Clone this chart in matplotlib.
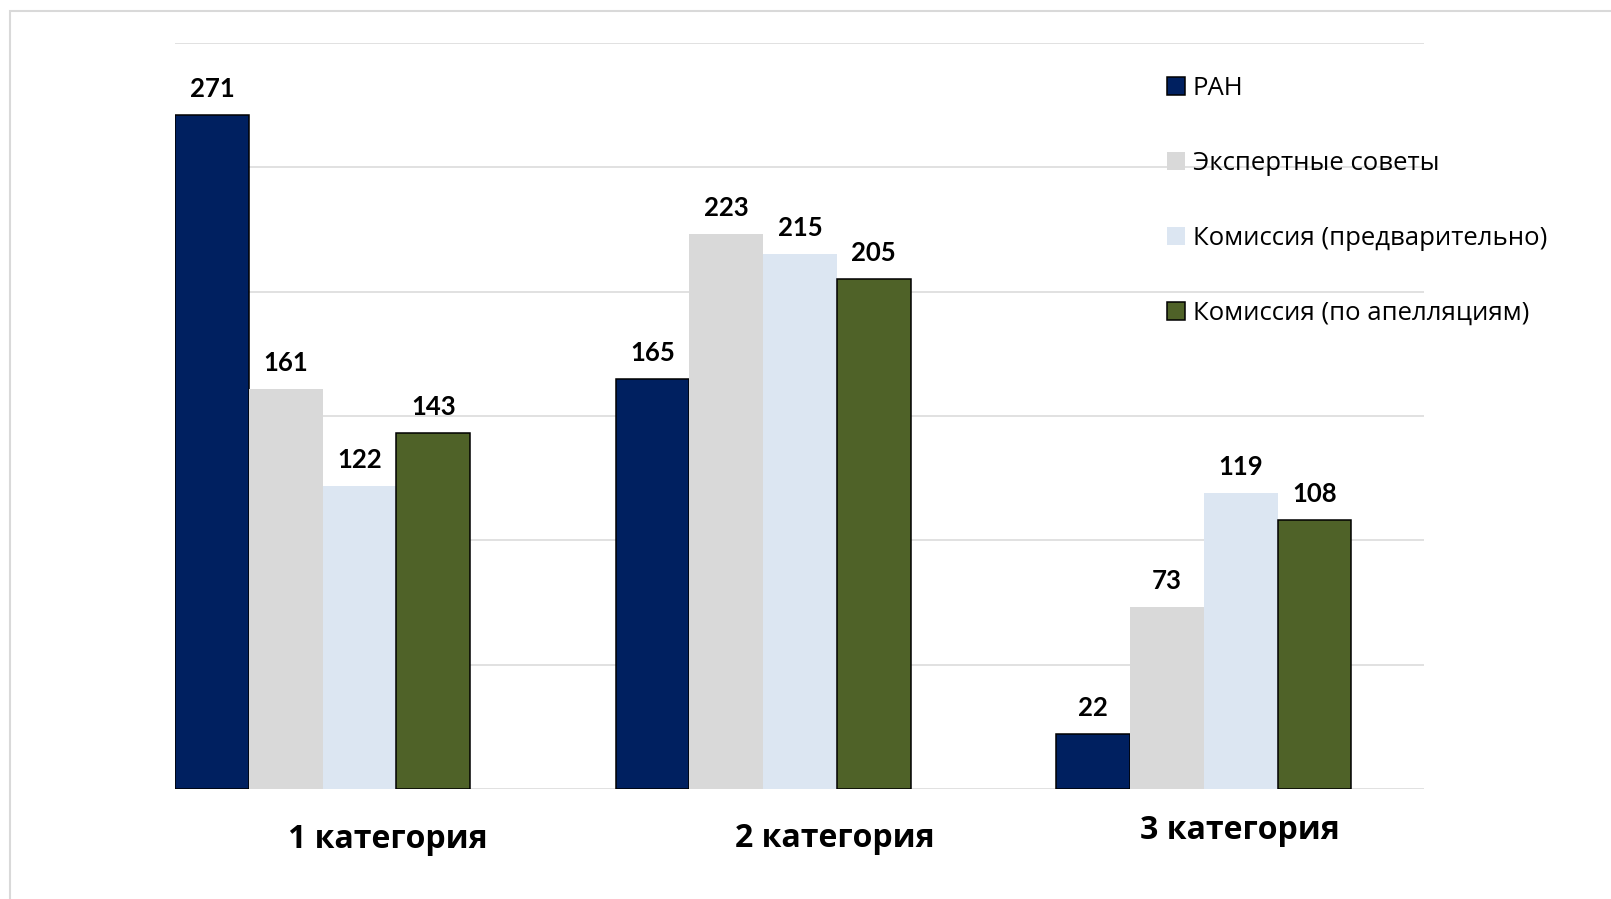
import matplotlib.pyplot as plt
import numpy as np
from matplotlib.patches import Rectangle

categories = ["1 категория", "2 категория", "3 категория"]
series_names = [
    "РАН",
    "Экспертные советы",
    "Комиссия (предварительно)",
    "Комиссия (по апелляциям)",
]
ran = [271, 165, 22]
expert = [161, 223, 73]
prelim = [122, 215, 119]
appeal = [143, 205, 108]

colors = ["#002060", "#D9D9D9", "#DCE6F2", "#4F6228"]
edges = ["black", "none", "none", "black"]

# category labels sit a bit off the group centres in the original
label_dx = [0.149, 0.163, 0.081]
label_dy = [-0.068, -0.066, -0.055]

FONT = "Lato"
WIDE_FONT = "Open Sans"


def main():
    fig = plt.figure(figsize=(16.11, 8.99), dpi=100)
    ax = fig.add_axes([175 / 1611, 1 - 789 / 899, 1249 / 1611, 746 / 899])

    values = [ran, expert, prelim, appeal]
    x = np.arange(len(categories))
    w = 0.1675
    for i, (name, vals) in enumerate(zip(series_names, values)):
        pos = x + (i - 1.5) * w
        bars = ax.bar(pos, vals, width=w, color=colors[i], edgecolor=edges[i],
                      linewidth=1.1, label=name, zorder=3)
        for b, v in zip(bars, vals):
            ax.annotate(str(v), (b.get_x() + b.get_width() / 2, v),
                        textcoords="offset points", xytext=(0, 13),
                        ha="center", va="baseline", fontsize=18.5,
                        fontweight="bold", family=FONT, zorder=4)

    ax.set_ylim(0, 300)
    ax.set_xlim(-2 * w, 2.5)
    ax.set_yticks(np.arange(0, 301, 50))
    ax.yaxis.grid(True, color="#D9D9D9", linewidth=1.1, zorder=0)
    ax.set_axisbelow(True)
    ax.tick_params(left=False, bottom=False, labelleft=False, labelbottom=False)
    for s in ax.spines.values():
        s.set_visible(False)

    for i, cat in enumerate(categories):
        ax.text(x[i] + label_dx[i], label_dy[i], cat,
                transform=ax.get_xaxis_transform(), ha="center", va="center",
                fontsize=23, fontweight="bold", family=WIDE_FONT)

    fig.legend(loc="upper left", bbox_to_anchor=(1167 / 1611, 1 - 76 / 899),
               frameon=False, prop={"family": WIDE_FONT, "size": 18.5},
               handlelength=0.7, handleheight=0.7, handletextpad=0.3,
               labelspacing=1.94, borderpad=0, borderaxespad=0)

    # light frame around the chart (only left/top visible in the crop)
    fig.patches.append(Rectangle((10 / 1611, -0.1), 1.2, 1.1 - 11 / 899,
                                 transform=fig.transFigure, fill=False,
                                 edgecolor="#D9D9D9", linewidth=1.5))

    fig.savefig("out.png", dpi=100)
    plt.close(fig)


if __name__ == "__main__":
    main()
